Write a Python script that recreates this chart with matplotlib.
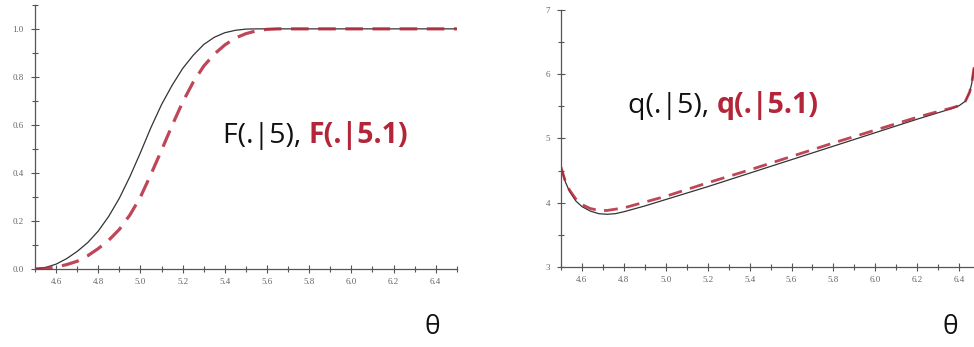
import matplotlib
matplotlib.use("Agg")
import matplotlib.pyplot as plt
from matplotlib.ticker import MultipleLocator

# F(.|5) and F(.|5.1)
theta_F = [4.50, 4.55, 4.60, 4.65, 4.70, 4.75, 4.80, 4.85, 4.90, 4.95, 5.00, 5.05, 5.10,
           5.15, 5.20, 5.25, 5.30, 5.35, 5.40, 5.45, 5.50, 5.55, 5.60, 5.65, 6.50]
F_5 = [0.0, 0.006, 0.020, 0.043, 0.073, 0.110, 0.158, 0.220, 0.295, 0.385, 0.485, 0.590,
       0.685, 0.765, 0.835, 0.890, 0.935, 0.965, 0.984, 0.994, 0.999, 1.0, 1.0, 1.0, 1.0]
F_51 = [0.0, 0.002, 0.008, 0.018, 0.032, 0.055, 0.085, 0.120, 0.165, 0.225, 0.300, 0.395,
        0.495, 0.598, 0.695, 0.778, 0.845, 0.895, 0.933, 0.962, 0.980, 0.992, 0.998, 1.0, 1.0]

# q(.|5) and q(.|5.1)
theta_q = [4.50, 4.52, 4.54, 4.57, 4.60, 4.64, 4.68, 4.72, 4.76, 4.80, 4.90, 5.00, 5.20,
           5.40, 5.60, 5.80, 6.00, 6.20, 6.30, 6.36, 6.40, 6.43, 6.45, 6.46, 6.471]
q_5 = [4.55, 4.33, 4.18, 4.03, 3.94, 3.87, 3.83, 3.82, 3.83, 3.86, 3.95, 4.05, 4.25,
       4.46, 4.67, 4.88, 5.09, 5.30, 5.40, 5.46, 5.51, 5.58, 5.72, 5.85, 6.10]
q_51 = [4.55, 4.34, 4.20, 4.06, 3.97, 3.91, 3.88, 3.88, 3.90, 3.92, 4.01, 4.10, 4.31,
        4.51, 4.72, 4.93, 5.13, 5.33, 5.42, 5.47, 5.51, 5.58, 5.72, 5.85, 6.10]

xticks = [4.6, 4.8, 5.0, 5.2, 5.4, 5.6, 5.8, 6.0, 6.2, 6.4]
xlabels = ["4.6", "4.8", "5.0", "5.2", "5.4", "5.6", "5.8", "6.0", "6.2", "6.4"]
F_yticks = [0, 0.2, 0.4, 0.6, 0.8, 1.0]
F_ylabels = ["0.0", "0.2", "0.4", "0.6", "0.8", "1.0"]
q_yticks = [3, 4, 5, 6, 7]
q_ylabels = ["3", "4", "5", "6", "7"]

red = "#b3263a"
axis_col = "#555555"

fig = plt.figure(figsize=(9.74, 3.47), dpi=100)
ax1 = fig.add_axes([0.036, 0.225, 0.433, 0.761])
ax2 = fig.add_axes([0.576, 0.2305, 0.424, 0.741])

for ax in (ax1, ax2):
    for s in ("top", "right"):
        ax.spines[s].set_visible(False)
    for s in ("left", "bottom"):
        ax.spines[s].set_color(axis_col)
        ax.spines[s].set_linewidth(0.9)
    ax.xaxis.set_minor_locator(MultipleLocator(0.1))
    ax.tick_params(which="both", direction="inout", colors=axis_col, width=0.8,
                   labelsize=6.5, labelcolor="#666666")
    ax.tick_params(which="major", length=6)
    ax.tick_params(which="minor", length=4)
    ax.tick_params(axis="y", pad=5)
    ax.set_xticks(xticks)
    ax.set_xticklabels(xlabels, family="Liberation Serif")

# left panel
ax1.plot(theta_F, F_5, color="#333333", lw=0.9)
ax1.plot(theta_F, F_51, color=red, lw=2.3, dashes=(5.5, 3), alpha=0.85)
ax1.set_xlim(4.5, 6.5)
ax1.set_ylim(0, 1.1)
ax1.set_yticks(F_yticks)
ax1.set_yticklabels(F_ylabels, family="Liberation Serif")
ax1.yaxis.set_minor_locator(MultipleLocator(0.1))

# right panel
ax2.plot(theta_q, q_5, color="#333333", lw=0.9)
ax2.plot(theta_q, q_51, color=red, lw=2.0, dashes=(5, 3), alpha=0.85)
ax2.set_xlim(4.5, 6.471)
ax2.set_ylim(3, 7)
ax2.set_yticks(q_yticks)
ax2.set_yticklabels(q_ylabels, family="Liberation Serif")
ax2.yaxis.set_minor_locator(MultipleLocator(0.5))

# labels
t1 = fig.text(223 / 974, 1 - 143 / 347, "F(.|5), ", fontsize=20.5, family="Open Sans",
              color="#111111", va="baseline")
ax1.annotate("F(.|5.1)", xy=(1, 0), xycoords=t1, va="bottom", ha="left",
             fontsize=20.5, family="Open Sans", weight="bold", color=red)

t2 = fig.text(628 / 974, 1 - 113 / 347, "q(.|5), ", fontsize=20.5, family="Open Sans",
              color="#111111", va="baseline")
ax2.annotate("q(.|5.1)", xy=(1, 0), xycoords=t2, va="bottom", ha="left",
             fontsize=20.5, family="Open Sans", weight="bold", color=red)

fig.text(432 / 974, 1 - 328 / 347, "θ", fontsize=19, family="Open Sans",
         ha="center", va="center", color="#111111")
fig.text(950 / 974, 1 - 328 / 347, "θ", fontsize=19, family="Open Sans",
         ha="center", va="center", color="#111111")

fig.savefig("out.png", dpi=100)
